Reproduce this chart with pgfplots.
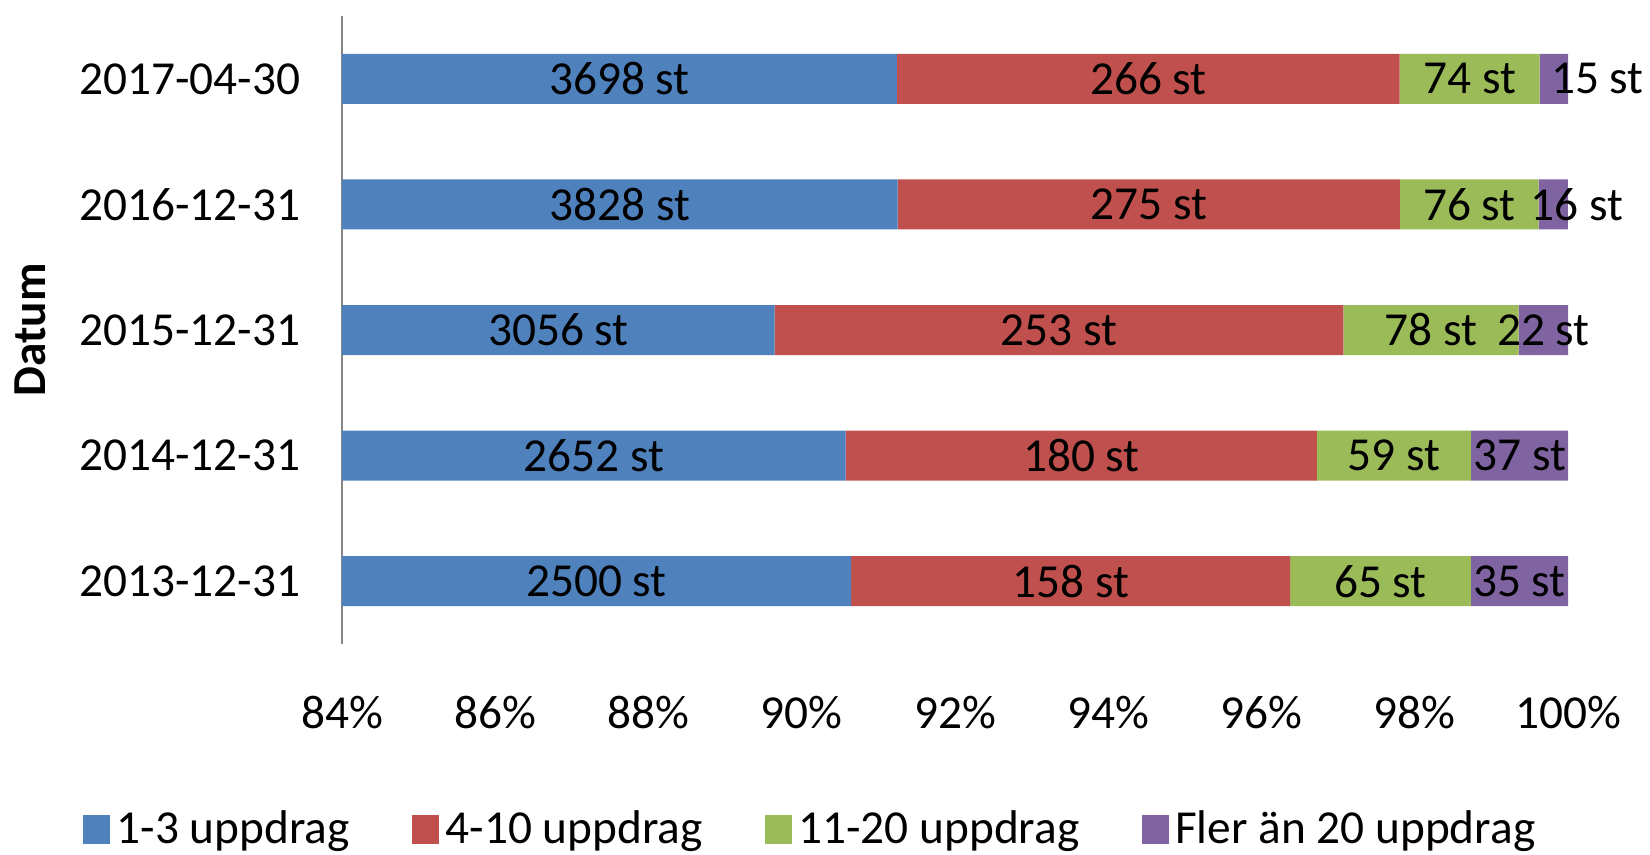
\documentclass[border=0pt]{standalone}
\usepackage{pgfplots}
\pgfplotsset{compat=1.18}
\usepackage{pgfplotstable}
\usepackage{fontspec}
\setmainfont{Carlito}
\definecolor{cA}{HTML}{4F81BD}
\definecolor{cB}{HTML}{C0504D}
\definecolor{cC}{HTML}{9BBB59}
\definecolor{cD}{HTML}{8064A2}
\definecolor{axgray}{HTML}{868686}
% percentages of each date's total; counts as labels; sh = extra label offset (in %)
\pgfplotstableread{
idx p1 p2 p3 p4 c1 c2 c3 c4 sh
0 90.645 5.729 2.357 1.269 2500 158 65 35 0
1 90.574 6.148 2.015 1.264 2652 180 59 37 0
2 89.645 7.422 2.288 0.645 3056 253 78 22 0
3 91.251 6.555 1.812 0.381 3828 275 76 16 0.31
4 91.241 6.563 1.826 0.370 3698 266 74 15 0.57
}\data
\pgfplotsset{frame/.style={scale only axis, width=367.8pt, height=188.4pt,
 xmin=84, xmax=100, ymin=-0.5, ymax=4.5, at={(0pt,0pt)}, anchor=south west}}
\begin{document}
\begin{tikzpicture}[font=\fontsize{14.2}{17}\selectfont]
\useasboundingbox (-102.6pt,-63.3pt) rectangle (392.4pt,193.2pt);
\begin{axis}[
 frame,
 xbar stacked, bar width=15pt,
 xtick={84,86,...,100},
 xticklabels={84\%,86\%,88\%,90\%,92\%,94\%,96\%,98\%,100\%},
 ytick={0,...,4},
 yticklabels={2013-12-31,2014-12-31,2015-12-31,2016-12-31,2017-04-30},
 major tick length=0pt,
 axis lines*=left,
 x axis line style={draw=none},
 y axis line style={-, draw=axgray, line width=0.8pt},
 xticklabel style={yshift=-12pt},
 yticklabel style={xshift=-9pt},
 ylabel={Datum},
 every axis y label/.style={at={(rel axis cs:0,0.5)}, xshift=-93.6pt, rotate=90, anchor=center, font=\fontsize{14.2}{17}\selectfont\bfseries},
 legend style={draw=none, fill=none, at={(0.384,-0.295)}, anchor=center, legend columns=4,
   /tikz/every even column/.append style={column sep=16.7pt}, font=\fontsize{14.2}{17}\selectfont},
 legend image code/.code={\fill[#1] (0pt,-4.4pt) rectangle (8pt,4.4pt);},
]
\addplot[fill=cA, draw=none] table[x=p1, y=idx] {\data};
\addlegendentry{1-3 uppdrag}
\addplot[fill=cB, draw=none] table[x=p2, y=idx] {\data};
\addlegendentry{4-10 uppdrag}
\addplot[fill=cC, draw=none] table[x=p3, y=idx] {\data};
\addlegendentry{11-20 uppdrag}
\addplot[fill=cD, draw=none] table[x=p4, y=idx] {\data};
\addlegendentry{Fler än 20 uppdrag}
\end{axis}
\begin{axis}[
 frame, hide axis, clip=false,
 point meta=explicit symbolic,
 nodes near coords={\pgfplotspointmeta{} st},
 every node near coord/.append style={anchor=center, text=black, font=\fontsize{14.2}{17}\selectfont},
]
\addplot[draw=none, mark=none] table[x expr={(\thisrow{p1}+84)/2}, y=idx, meta=c1] {\data};
\addplot[draw=none, mark=none] table[x expr={\thisrow{p1}+\thisrow{p2}/2}, y=idx, meta=c2] {\data};
\addplot[draw=none, mark=none] table[x expr={\thisrow{p1}+\thisrow{p2}+\thisrow{p3}/2}, y=idx, meta=c3] {\data};
\addplot[draw=none, mark=none] table[x expr={\thisrow{p1}+\thisrow{p2}+\thisrow{p3}+\thisrow{p4}/2+\thisrow{sh}}, y=idx, meta=c4] {\data};
\end{axis}
\end{tikzpicture}
\end{document}
